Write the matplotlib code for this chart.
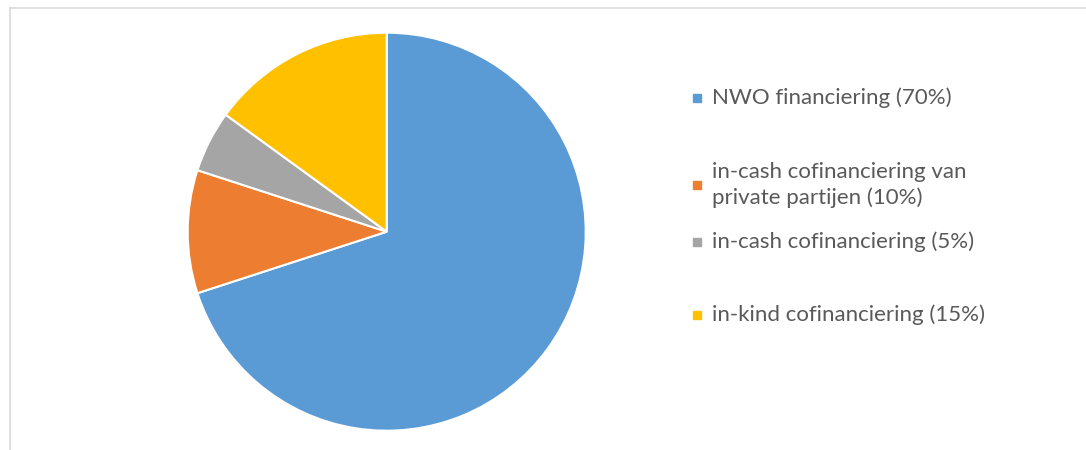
import matplotlib
matplotlib.use('Agg')
import matplotlib.pyplot as plt
from matplotlib.lines import Line2D
from matplotlib.patches import Rectangle

# ── DATA ─────────────────────────────────────────────────────────────────────
labels = [
    "NWO financiering (70%)",
    "in-cash cofinanciering van\nprivate partijen (10%)",
    "in-cash cofinanciering (5%)",
    "in-kind cofinanciering (15%)",
]
shares = [70, 10, 5, 15]
colors = ["#5B9BD5", "#ED7D31", "#A5A5A5", "#FFC000"]

# legend row centres (pixels from top)
legend_y = [98, 185, 242, 315]

W, H = 1086, 450
plt.rcParams['font.family'] = ['Lato', 'DejaVu Sans']

fig = plt.figure(figsize=(W / 100, H / 100), dpi=100)

# light frame on top and left
fig.add_artist(Line2D([10 / W, 10 / W], [0, 1 - 7.5 / H], transform=fig.transFigure,
                      color='#D9D9D9', lw=1.2))
fig.add_artist(Line2D([10 / W, 1], [1 - 7.5 / H, 1 - 7.5 / H], transform=fig.transFigure,
                      color='#D9D9D9', lw=1.2))

cx, cy, r = 386.7, 231.7, 200
ax = fig.add_axes([(cx - r) / W, (H - cy - r) / H, 2 * r / W, 2 * r / H])
ax.pie(shares, colors=colors, startangle=90, counterclock=False,
       wedgeprops=dict(edgecolor='white', linewidth=1.5))
ax.set_xlim(-1.005, 1.005)
ax.set_ylim(-1.005, 1.005)
ax.set_aspect('equal')

for lab, c, y in zip(labels, colors, legend_y):
    fig.add_artist(Rectangle((693 / W, (H - y - 4) / H), 8 / W, 8 / H,
                             transform=fig.transFigure, color=c))
    fig.text(712 / W, (H - y) / H, lab, fontsize=16, color='#595959',
             va='center', ha='left', linespacing=1.3)

plt.savefig("out.png", dpi=100)
